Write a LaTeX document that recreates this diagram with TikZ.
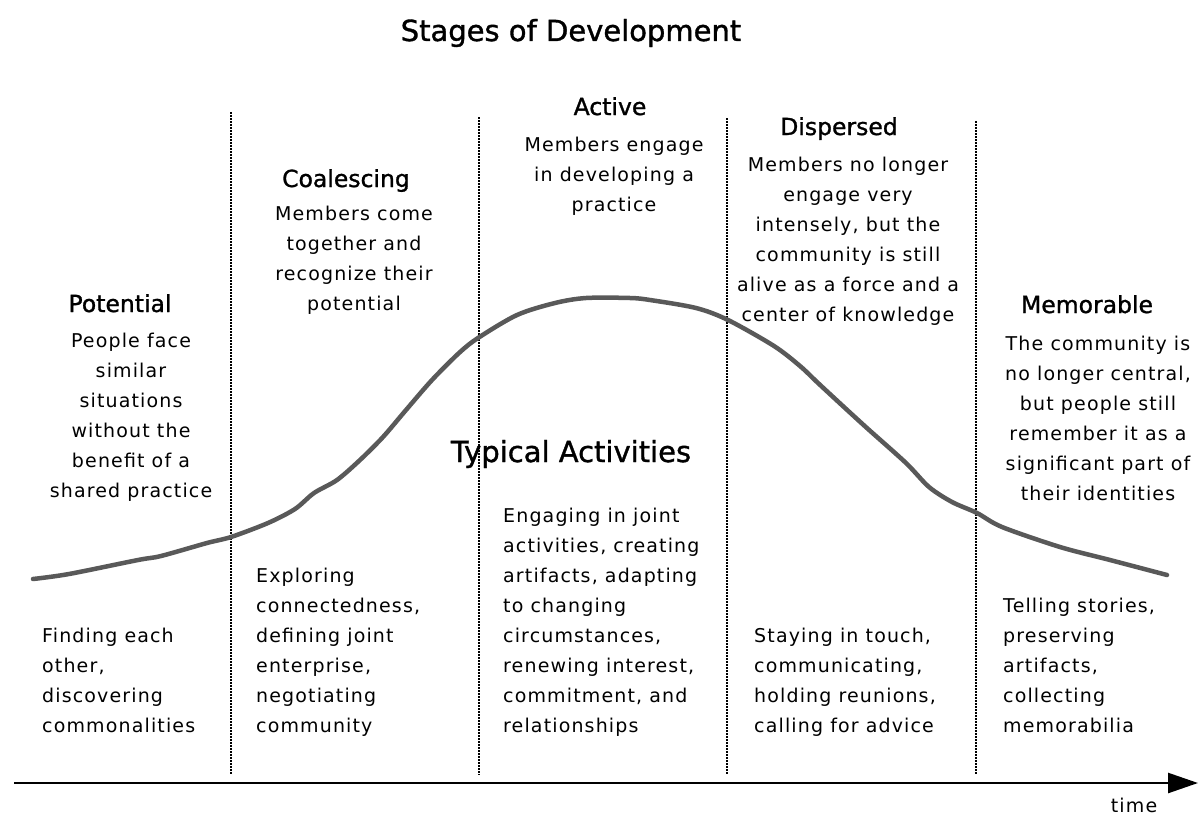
\documentclass[tikz,border=0pt]{standalone}
\usepackage{fontspec}
\setmainfont{DejaVu Sans}
\newfontfamily\bodyfont{DejaVu Sans}[LetterSpace=6]
\newfontfamily\headfont{DejaVu Sans}[FakeBold=1.2]
\usetikzlibrary{arrows.meta}
\begin{document}
\begin{tikzpicture}[x=1pt,y=-1pt,
  titletext/.style={inner sep=0pt,anchor=base,font=\headfont\fontsize{29}{34}\selectfont},
  stagehead/.style={inner sep=0pt,anchor=base,font=\headfont\fontsize{23.5}{28}\selectfont},
  stagedesc/.style={inner sep=0pt,anchor=base,align=center,font=\bodyfont\fontsize{19}{30}\selectfont},
  actdesc/.style={inner sep=0pt,anchor=base west,align=left,font=\bodyfont\fontsize{19}{30}\selectfont},
  divider/.style={line width=1.5pt,dash pattern=on 1.5pt off 1.5pt},
  lifecurve/.style={line width=4.5pt,draw=black!65,line cap=round,line join=round},
  timeaxis/.style={line width=2.5pt,-{Triangle[length=30pt,width=20pt]}}
]
\useasboundingbox (0,0) rectangle (1198,816);

% dividers
\coordinate (d1t) at (231,112); \coordinate (d1b) at (231,775);
\coordinate (d2t) at (479,117); \coordinate (d2b) at (479,775);
\coordinate (d3t) at (727,118); \coordinate (d3b) at (727,775);
\coordinate (d4t) at (976,121); \coordinate (d4b) at (976,775);
\draw[divider] (d1t) -- (d1b);
\draw[divider] (d2t) -- (d2b);
\draw[divider] (d3t) -- (d3b);
\draw[divider] (d4t) -- (d4b);

% curve
\draw[lifecurve] plot[smooth,tension=0.5] coordinates {
 (33,579) (69,574) (138,560) (161,556) (207,543) (231,537) (268,523) (295,509)
 (314,493) (337,480) (360,460) (383,437) (406,410) (432,380) (459,353) (478,338)
 (517,315) (555,303) (586,298) (630,298) (650,300) (696,308) (728,320) (774,346)
 (800,366) (818,383) (845,408) (868,429) (906,463) (929,487) (952,502) (977,513)
 (1002,527) (1060,547) (1110,560) (1167,575)};

% time axis
\coordinate (axisL) at (14,783);
\coordinate (axisR) at (1198,783);
\draw[timeaxis] (axisL) -- (axisR);
\node[inner sep=0pt,anchor=base,font=\bodyfont\fontsize{19}{24}\selectfont] (time) at (1134,812) {time};

% titles
\node[titletext] (title) at (571,41) {Stages of Development};
\node[titletext] (typical) at (571,462) {Typical Activities};

% stage headings
\node[stagehead] (hPot) at (120,312) {Potential};
\node[stagehead] (hCoa) at (346,187) {Coalescing};
\node[stagehead] (hAct) at (610,115) {Active};
\node[stagehead] (hDis) at (839,135) {Dispersed};
\node[stagehead] (hMem) at (1087,313) {Memorable};

% stage descriptions (anchor = baseline of last line)
\node[stagedesc] (sPot) at (131,497) {People face\\similar\\situations\\without the\\benefit of a\\shared practice};
\node[stagedesc] (sCoa) at (354,310) {Members come\\together and\\recognize their\\potential};
\node[stagedesc] (sAct) at (614,211) {Members engage\\in developing a\\practice};
\node[stagedesc] (sDis) at (848,321) {Members no longer\\engage very\\intensely, but the\\community is still\\alive as a force and a\\center of knowledge};
\node[stagedesc] (sMem) at (1098,500) {The community is\\no longer central,\\but people still\\remember it as a\\significant part of\\their identities};

% typical activities (anchor = baseline of last line)
\node[actdesc] (aPot) at (42,732) {Finding each\\other,\\discovering\\commonalities};
\node[actdesc] (aCoa) at (256,732) {Exploring\\connectedness,\\defining joint\\enterprise,\\negotiating\\community};
\node[actdesc] (aAct) at (503,732) {Engaging in joint\\activities, creating\\artifacts, adapting\\to changing\\circumstances,\\renewing interest,\\commitment, and\\relationships};
\node[actdesc] (aDis) at (754,732) {Staying in touch,\\communicating,\\holding reunions,\\calling for advice};
\node[actdesc] (aMem) at (1003,732) {Telling stories,\\preserving\\artifacts,\\collecting\\memorabilia};
\end{tikzpicture}
\end{document}
